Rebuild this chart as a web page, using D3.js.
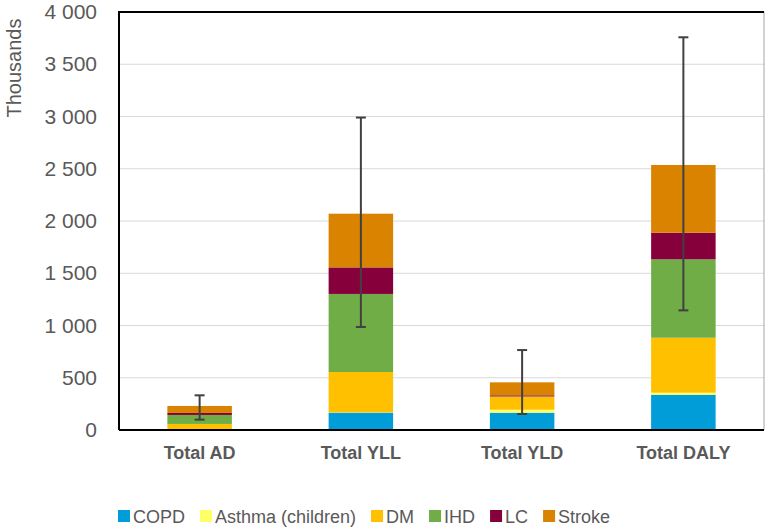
<!DOCTYPE html>
<html>
<head>
<meta charset="utf-8">
<script src="https://cdn.jsdelivr.net/npm/d3@7"></script>
<style>
  body { margin: 0; background: #fff; }
  svg { font-family: 'Liberation Sans', Arial, sans-serif; }
</style>
</head>
<body>
<svg id="chart" width="765" height="529"></svg>
<script>
'use strict';

var categories = ['Total AD', 'Total YLL', 'Total YLD', 'Total DALY'];
var seriesNames = ['COPD', 'Asthma (children)', 'DM', 'IHD', 'LC', 'Stroke'];

var copd   = [4, 166, 166, 338];
var asthma = [1, 3, 28, 19];
var dm     = [53, 386, 125, 526];
var ihd    = [86, 747, 2, 750];
var lc     = [19, 254, 11, 255];
var stroke = [67, 514, 124, 648];

var errLow  = [99, 986, 153, 1145];
var errHigh = [332, 2990, 765, 3758];

var yTicks = [0, 500, 1000, 1500, 2000, 2500, 3000, 3500, 4000];

var COLORS = ['#009dd9', '#ffff66', '#ffc000', '#70ad47', '#86003c', '#d98300'];

var PLOT = { left: 119, right: 764, top: 12, bottom: 430 };

draw();

function draw() {
  var svg = d3.select('#chart');
  var seriesValues = [copd, asthma, dm, ihd, lc, stroke];

  var rows = categories.map(function(c, i) {
    var row = { category: c };
    seriesNames.forEach(function(s, j) { row[s] = seriesValues[j][i]; });
    return row;
  });

  var stacked = d3.stack().keys(seriesNames)(rows);

  var xScale = d3.scaleBand()
    .domain(categories)
    .range([PLOT.left, PLOT.right])
    .paddingInner(0.6)
    .paddingOuter(0.3);

  var yScale = d3.scaleLinear()
    .domain([0, 4000])
    .range([PLOT.bottom, PLOT.top]);

  var fmt = function(v) {
    return d3.format(',')(v).replace(/,/g, ' ');
  };

  // gridlines
  svg.append('g')
    .selectAll('line')
    .data(yTicks.slice(1, -1))
    .enter().append('line')
    .attr('x1', PLOT.left)
    .attr('x2', PLOT.right)
    .attr('y1', function(d) { return yScale(d); })
    .attr('y2', function(d) { return yScale(d); })
    .attr('stroke', '#d9d9d9')
    .attr('stroke-width', 1);

  // y axis labels
  var yAxis = d3.axisLeft(yScale)
    .tickValues(yTicks)
    .tickSize(0)
    .tickPadding(22)
    .tickFormat(fmt);

  var yg = svg.append('g')
    .attr('transform', 'translate(' + PLOT.left + ',0)')
    .call(yAxis);
  yg.select('.domain').remove();
  yg.selectAll('text')
    .attr('font-size', 21)
    .attr('font-family', "'Liberation Sans', Arial, sans-serif")
    .attr('fill', '#595959');

  svg.append('text')
    .attr('transform', 'translate(21,68) rotate(-90)')
    .attr('text-anchor', 'middle')
    .attr('font-size', 20)
    .attr('fill', '#595959')
    .text('Thousands');

  // bars
  svg.append('g')
    .selectAll('g')
    .data(stacked)
    .enter().append('g')
    .attr('fill', function(d, i) { return COLORS[i]; })
    .selectAll('rect')
    .data(function(d) { return d; })
    .enter().append('rect')
    .attr('x', function(d) { return xScale(d.data.category); })
    .attr('width', xScale.bandwidth())
    .attr('y', function(d) { return yScale(d[1]); })
    .attr('height', function(d) { return yScale(d[0]) - yScale(d[1]); });

  // error bars
  var eg = svg.append('g')
    .attr('stroke', '#404040')
    .attr('stroke-width', 2);

  categories.forEach(function(c, i) {
    var cx = xScale(c) + xScale.bandwidth() / 2;
    eg.append('line')
      .attr('x1', cx).attr('x2', cx)
      .attr('y1', yScale(errLow[i])).attr('y2', yScale(errHigh[i]));
    [errLow[i], errHigh[i]].forEach(function(v) {
      eg.append('line')
        .attr('x1', cx - 5).attr('x2', cx + 5)
        .attr('y1', yScale(v)).attr('y2', yScale(v));
    });
  });

  // frame
  svg.append('line')
    .attr('x1', PLOT.right).attr('x2', PLOT.right)
    .attr('y1', PLOT.top).attr('y2', PLOT.bottom)
    .attr('stroke', '#a6a6a6').attr('stroke-width', 1);
  svg.append('path')
    .attr('d', 'M' + PLOT.left + ',' + PLOT.bottom + 'V' + PLOT.top + 'H' + PLOT.right)
    .attr('fill', 'none')
    .attr('stroke', '#000')
    .attr('stroke-width', 2);

  // x axis
  var xAxis = d3.axisBottom(xScale)
    .tickSize(0)
    .tickPadding(16);

  var xg = svg.append('g')
    .attr('transform', 'translate(0,' + PLOT.bottom + ')')
    .call(xAxis);
  xg.select('.domain')
    .attr('d', 'M' + PLOT.left + ',0H' + PLOT.right)
    .attr('stroke', '#000')
    .attr('stroke-width', 2);
  xg.selectAll('text')
    .attr('font-size', 18)
    .attr('font-weight', 'bold')
    .attr('font-family', "'Liberation Sans', Arial, sans-serif")
    .attr('fill', '#595959');

  // legend
  var legend = svg.append('g').attr('transform', 'translate(118,510)');
  var lx = 0;
  seriesNames.forEach(function(s, i) {
    var item = legend.append('g').attr('transform', 'translate(' + lx + ',0)');
    item.append('rect')
      .attr('width', 12).attr('height', 12)
      .attr('fill', COLORS[i]);
    var t = item.append('text')
      .attr('x', 15)
      .attr('y', 12.5)
      .attr('font-size', 18)
      .attr('fill', '#595959')
      .text(s);
    lx += 15 + t.node().getComputedTextLength() + 15;
  });
}
</script>
</body>
</html>
